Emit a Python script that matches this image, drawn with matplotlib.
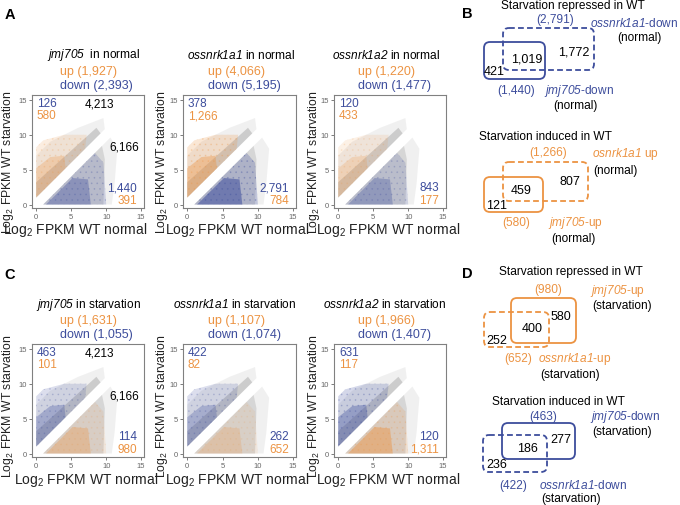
import matplotlib
matplotlib.use('Agg')
import matplotlib.pyplot as plt
from matplotlib.patches import Polygon, FancyBboxPatch

plt.rcParams['font.family'] = ['Liberation Sans', 'DejaVu Sans']
plt.rcParams['mathtext.fontset'] = 'custom'
plt.rcParams['mathtext.rm'] = 'Liberation Sans'
plt.rcParams['mathtext.it'] = 'Liberation Sans:italic'
plt.rcParams['mathtext.bf'] = 'Liberation Sans:italic'
plt.rcParams['hatch.linewidth'] = 0.5

BLUE = '#3d4d9c'
ORANGE = '#ec9342'
GREY = '#b0b0b0'

# ---------------- data ----------------
genes = ['jmj705', 'ossnrk1a1', 'ossnrk1a2']
normal_up = ['1,927', '4,066', '1,220']
normal_down = ['2,393', '5,195', '1,477']
starv_up = ['1,631', '1,107', '1,966']
starv_down = ['1,055', '1,074', '1,407']
# numbers printed in the scatter corners
normal_top_blue = ['126', '378', '120']
normal_top_orange = ['580', '1,266', '433']
normal_bot_blue = ['1,440', '2,791', '843']
normal_bot_orange = ['391', '784', '177']
starv_top_blue = ['463', '422', '631']
starv_top_orange = ['101', '82', '117']
starv_bot_blue = ['114', '262', '120']
starv_bot_orange = ['980', '652', '1,311']
wt_induced = '4,213'
wt_repressed = '6,166'
ticks = [0, 5, 10, 15]

# outlines of the point clouds (log2 FPKM normal, log2 FPKM starvation)
grey_up_sparse = [(0, 1), (9.8, 10.8), (9.6, 12.4), (6, 11.0), (2, 9.0), (0, 7.0)]
grey_up_dense = [(0, 1), (9.2, 10.2), (8.6, 11.0), (0, 3.2)]
grey_lo_sparse = [(1, 0), (10.6, 9.6), (11.6, 8.0), (11.2, 3), (10.8, 0)]
grey_lo_dense = [(1, 0), (9.4, 8.4), (9.8, 6.5), (9.6, 0)]
col_up_sparse = [(0, 1), (7, 8), (7.2, 10), (4, 10), (1, 9.2), (0, 8.2)]
col_up_dense = [(0, 1), (4.2, 5.2), (4, 7), (2, 6.8), (0, 5.2)]
col_lo_sparse = [(1, 0), (8.4, 7.4), (9.6, 6), (10, 0)]
col_lo_dense = [(1.4, 0), (5.2, 3.8), (7.4, 3.6), (7.8, 0)]

# Venn counts
vB1 = dict(a_tot='(1,440)', b_tot='(2,791)', only_a='421', both='1,019', only_b='1,772')
vB2 = dict(a_tot='(580)', b_tot='(1,266)', only_a='121', both='459', only_b='807')
vD1 = dict(a_tot='(980)', b_tot='(652)', only_a='580', both='400', only_b='252')
vD2 = dict(a_tot='(463)', b_tot='(422)', only_a='277', both='186', only_b='236')

# ---------------- figure ----------------
W, H = 680, 506
fig = plt.figure(figsize=(W / 100, H / 100), dpi=100)
ov = fig.add_axes([0, 0, 1, 1], zorder=5)
ov.set_xlim(0, W)
ov.set_ylim(H, 0)
ov.axis('off')

xframes = [(32, 144), (183, 296), (334, 446)]
rows = [(96, 209), (345, 458)]

# alpha styling per panel: (up sparse, up dense, low sparse, low dense)
alphas = [[(0.16, 0.28, 0.20, 0.36), (0.22, 0.38, 0.26, 0.55), (0.13, 0.22, 0.18, 0.32)],
          [(0.18, 0.30, 0.12, 0.32), (0.18, 0.28, 0.10, 0.22), (0.22, 0.36, 0.18, 0.45)]]


def poly(ax, verts, color, alpha, hatch=None, z=1):
    ax.add_patch(Polygon(verts, closed=True, facecolor=color, alpha=alpha,
                         edgecolor=color if hatch else 'none', lw=0,
                         hatch=hatch, zorder=z))


def make_axes(r, c):
    x0, x1 = xframes[c]
    y0, y1 = rows[r]
    ax = fig.add_axes([x0 / W, 1 - y1 / H, (x1 - x0) / W, (y1 - y0) / H])
    ax.set_xlim(-0.6, 15.4)
    ax.set_ylim(-0.5, 15.7)
    ax.set_xticks(ticks)
    ax.set_yticks(ticks)
    ax.tick_params(labelsize=5.5, colors='#666666', length=2, width=0.6, pad=1.5)
    for s in ax.spines.values():
        s.set_color('#808080')
        s.set_linewidth(0.8)
    return ax


for r in range(2):
    for c in range(3):
        ax = make_axes(r, c)
        cu, cl = (ORANGE, BLUE) if r == 0 else (BLUE, ORANGE)
        a = alphas[r][c]
        poly(ax, grey_up_sparse, GREY, 0.18)
        poly(ax, grey_lo_sparse, GREY, 0.18)
        poly(ax, grey_up_dense, GREY, 0.55)
        poly(ax, grey_lo_dense, GREY, 0.40)
        poly(ax, col_up_sparse, cu, a[0], '...', z=2)
        poly(ax, col_up_dense, cu, a[1], z=2)
        poly(ax, col_lo_sparse, cl, a[2], '...', z=2)
        poly(ax, col_lo_dense, cl, a[3], z=2)

        if r == 0:
            tb, to, bb, bo = normal_top_blue[c], normal_top_orange[c], normal_bot_blue[c], normal_bot_orange[c]
        else:
            tb, to, bb, bo = starv_top_blue[c], starv_top_orange[c], starv_bot_blue[c], starv_bot_orange[c]
        fs = 8.5
        ax.text(0.1, 14.6, tb, color=BLUE, fontsize=fs, va='center', ha='left', zorder=4)
        ax.text(0.1, 12.8, to, color=ORANGE, fontsize=fs, va='center', ha='left', zorder=4)
        ax.text(14.4, 2.5, bb, color=BLUE, fontsize=fs, va='center', ha='right', zorder=4)
        ax.text(14.4, 0.7, bo, color=ORANGE, fontsize=fs, va='center', ha='right', zorder=4)
        if c == 0:
            ax.text(9.0, 14.5, wt_induced, color='black', fontsize=fs, va='center', ha='center', zorder=4)
            ax.text(12.6, 8.3, wt_repressed, color='black', fontsize=fs, va='center', ha='center', zorder=4)

# scatter titles
cond = ['normal', 'starvation']
title_cx = [[93, 241, 386], [88, 235, 385]]
title_y = [(55, 72, 86), (305, 321, 335)]
updown_x = [60, 208, 358]
xlab_cx = [[75, 237, 388], [86, 237, 388]]
xlab_y = [230, 480]
ylab_x = [8, 162, 314]
ylab_cy = [162, 406]
for r in range(2):
    ups = normal_up if r == 0 else starv_up
    downs = normal_down if r == 0 else starv_down
    for c in range(3):
        sep = '  ' if (r == 0 and c == 0) else ' '
        ov.text(title_cx[r][c], title_y[r][0], r'$\mathbf{' + genes[c] + '}$' + sep + 'in ' + cond[r],
                ha='center', va='center', fontsize=8.6)
        ov.text(updown_x[c], title_y[r][1], 'up (' + ups[c] + ')', color=ORANGE,
                ha='left', va='center', fontsize=9)
        ov.text(updown_x[c], title_y[r][2], 'down (' + downs[c] + ')', color=BLUE,
                ha='left', va='center', fontsize=9)
        ov.text(xlab_cx[r][c], xlab_y[r], r'Log$_2$ FPKM WT normal', ha='center', va='center',
                fontsize=10, color='#222222')
        ov.text(ylab_x[c], ylab_cy[r], r'Log$_2$ FPKM WT starvation', ha='center', va='center',
                fontsize=8.8, rotation=90, color='#222222')

# panel letters
for lab, (x, y) in zip('ABCD', [(10, 15), (467, 14), (10, 275), (467, 274)]):
    ov.text(x, y, lab, fontsize=10.5, fontweight='bold', ha='center', va='center')


def rbox(x0, y0, x1, y1, color, dashed):
    ov.add_patch(FancyBboxPatch((x0, y0), x1 - x0, y1 - y0,
                                boxstyle='round,pad=0,rounding_size=6',
                                fill=False, edgecolor=color, lw=1.3,
                                linestyle=(0, (3.2, 1.8)) if dashed else '-'))


def T(x, y, s, color='black', ha='center', fs=8.6):
    ov.text(x, y, s, color=color, ha=ha, va='center', fontsize=fs)


# ---- B top: starvation repressed (normal) ----
T(573, 6, 'Starvation repressed in WT')
T(555, 20, vB1['b_tot'], BLUE)
T(590, 23, r'$\mathbf{ossnrk1a1}$-down', BLUE, ha='left')
T(639, 38, '(normal)')
rbox(503, 29, 594, 71, BLUE, True)
rbox(484, 43, 545, 80, BLUE, False)
T(527, 59, vB1['both'], fs=9)
T(574, 52, vB1['only_b'], fs=9)
T(494, 72, vB1['only_a'], fs=9)
T(516, 91, vB1['a_tot'], BLUE)
T(544, 91, r'$\mathbf{jmj705}$-down', BLUE, ha='left')
T(575, 106, '(normal)')

# ---- B bottom: starvation induced (normal) ----
T(545, 137, 'Starvation induced in WT')
T(548, 153, vB2['b_tot'], ORANGE)
T(592, 154, r'$\mathbf{osnrk1a1}$ up', ORANGE, ha='left')
T(615, 171, '(normal)')
rbox(503, 163, 588, 202, ORANGE, True)
rbox(484, 178, 543, 213, ORANGE, False)
T(521, 191, vB2['both'], fs=9)
T(570, 182, vB2['only_b'], fs=9)
T(497, 206, vB2['only_a'], fs=9)
T(516, 223, vB2['a_tot'], ORANGE)
T(548, 223, r'$\mathbf{jmj705}$-up', ORANGE, ha='left')
T(573, 239, '(normal)')

# ---- D top: starvation repressed (starvation) ----
T(571, 272, 'Starvation repressed in WT')
T(548, 290, vD1['a_tot'], ORANGE)
T(590, 291, r'$\mathbf{jmj705}$-up', ORANGE, ha='left')
T(622, 306, '(starvation)')
rbox(511, 299, 576, 344, ORANGE, False)
rbox(484, 313, 549, 348, ORANGE, True)
T(532, 329, vD1['both'], fs=9)
T(561, 317, vD1['only_a'], fs=9)
T(497, 341, vD1['only_b'], fs=9)
T(518, 359, vD1['b_tot'], ORANGE)
T(538, 359, r'$\mathbf{ossnrk1a1}$-up', ORANGE, ha='left')
T(570, 375, '(starvation)')

# ---- D bottom: starvation induced (starvation) ----
T(558, 402, 'Starvation induced in WT')
T(543, 417, vD2['a_tot'], BLUE)
T(590, 417, r'$\mathbf{jmj705}$-down', BLUE, ha='left')
T(622, 432, '(starvation)')
rbox(502, 424, 575, 460, BLUE, False)
rbox(483, 436, 547, 473, BLUE, True)
T(527, 449, vD2['both'], fs=9)
T(561, 440, vD2['only_a'], fs=9)
T(497, 465, vD2['only_b'], fs=9)
T(513, 486, vD2['b_tot'], BLUE)
T(539, 486, r'$\mathbf{ossnrk1a1}$-down', BLUE, ha='left')
T(571, 499, '(starvation)')

fig.savefig('out.png', dpi=100)
